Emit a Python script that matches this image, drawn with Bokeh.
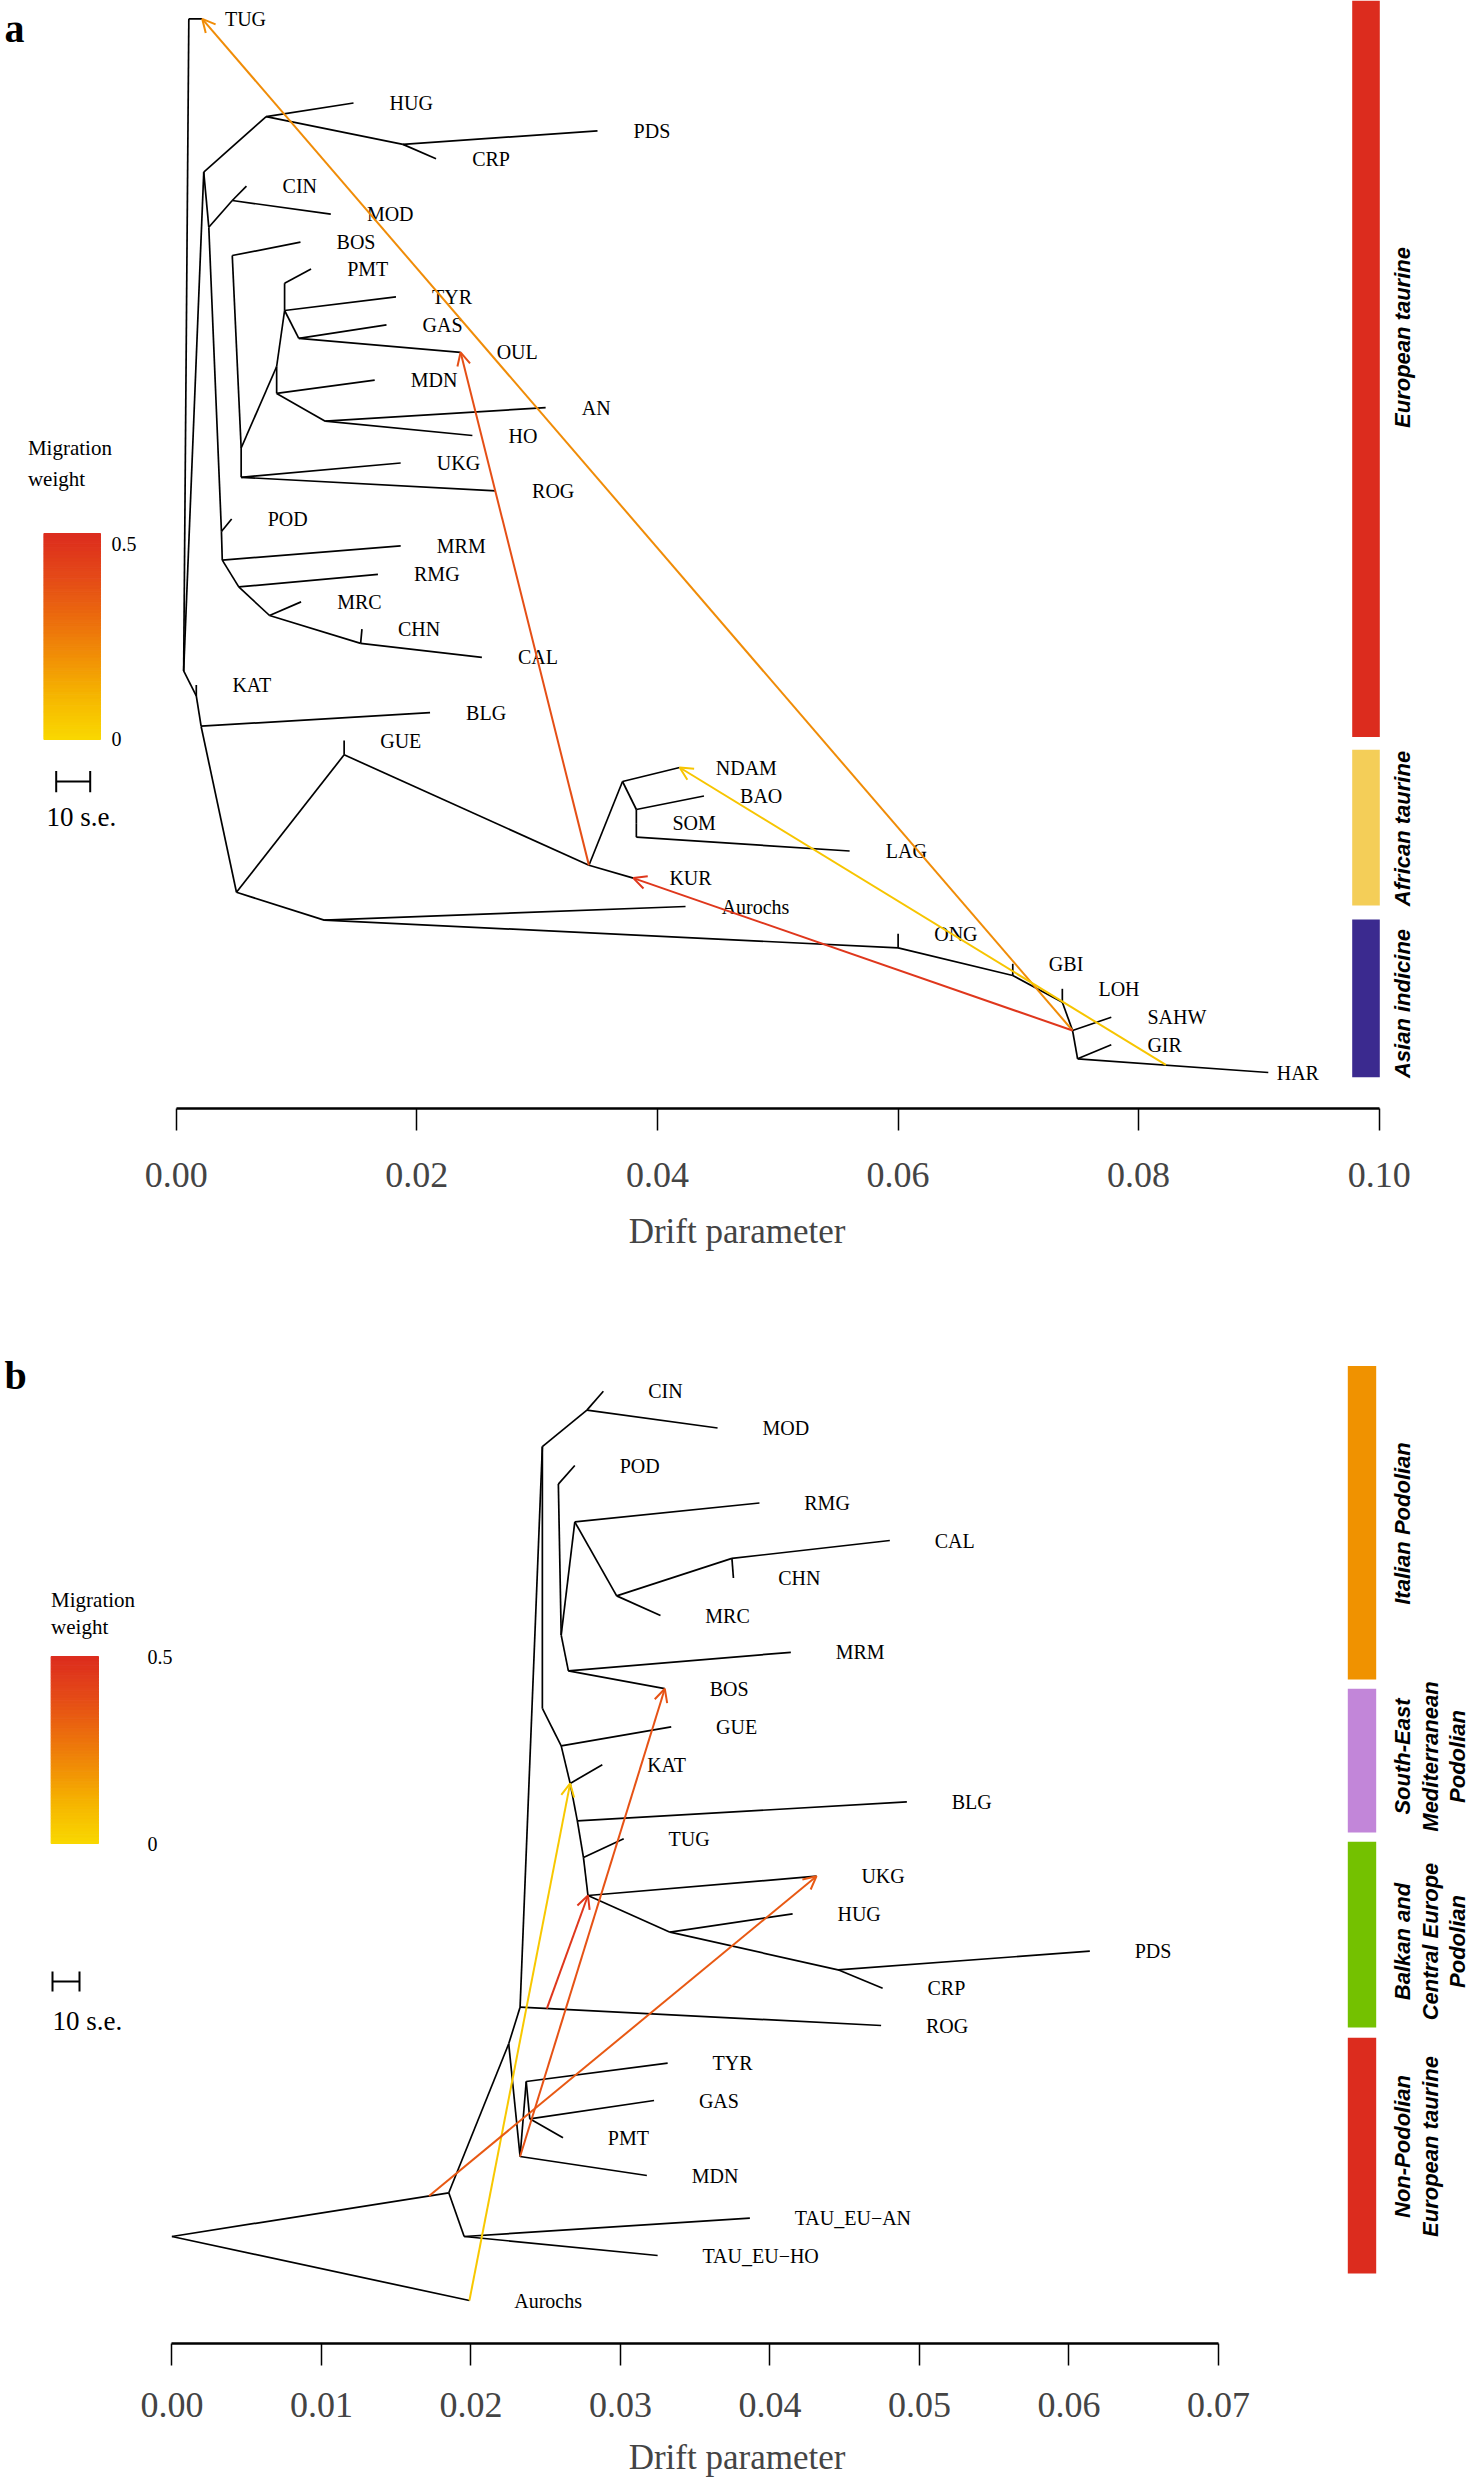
import math
from bokeh.plotting import figure
from bokeh.models import Range1d, Arrow, OpenHead, FixedTicker, NumeralTickFormatter, ColumnDataSource
from bokeh.layouts import column
from bokeh.embed import file_html
from bokeh.resources import INLINE
from bokeh.core.properties import value

SERIF = "Liberation Serif"
SANS = "Liberation Sans"

# ====================== DATA: panel a (TreeMix, all populations) ======================
a_node = ["TUG", "TUGm", "R0", "P1", "HC", "HUG", "PC", "PDS", "CRP", "Q1", "CM", "CIN", "MOD",
          "BOSN", "BOS", "PN", "PMT", "TN", "TYR", "GN", "GAS", "OUL", "Z1", "Z2", "MDN", "AHN",
          "AN", "HO", "U1", "U2", "UKG", "ROG", "PODN", "POD", "MRMN", "MRM", "RN", "RMG", "CN",
          "MRC", "CHNN", "CHN", "CAL", "KATN", "KAT", "BLGN", "BLG", "E", "GUEN", "GUE", "KN",
          "KUR", "A1", "NDAM", "A2", "BAO", "SOM", "A3", "LAG", "F", "Aurochs", "I1", "ONG", "I2",
          "GBI", "I3", "LOH", "I4", "SAHW", "I5", "GIR", "HAR", "MH"]
a_drift = [0.00105, 0.00216, 0.00062, 0.00229, 0.00748, 0.01474, 0.01885, 0.03502, 0.02160, 0.00271,
           0.00466, 0.00584, 0.01285, 0.00466, 0.01033, 0.00901, 0.01121, 0.00901, 0.01827, 0.01019,
           0.01748, 0.02364, 0.00835, 0.00835, 0.01650, 0.01239, 0.03071, 0.02462, 0.00540, 0.00540,
           0.01866, 0.02658, 0.00376, 0.00461, 0.00383, 0.01866, 0.00520, 0.01677, 0.00776, 0.01038,
           0.01533, 0.01544, 0.02541, 0.00167, 0.00167, 0.00207, 0.02110, 0.00501, 0.01396, 0.01396,
           0.03431, 0.03800, 0.03710, 0.04185, 0.03825, 0.04387, 0.03825, 0.03825, 0.05598, 0.01230,
           0.04234, 0.06001, 0.06001, 0.06954, 0.06954, 0.07366, 0.07366, 0.07451, 0.07773, 0.07493,
           0.07773, 0.09078, 0.08227]
a_ypos = [18.3, 18.3, 670.4, 171.7, 116.1, 102.5, 143.9, 130.4, 158.2, 226.7, 200.0, 185.7, 213.6,
          255.0, 241.7, 282.7, 268.6, 310.0, 296.4, 337.8, 324.3, 351.8, 366.0, 392.9, 379.6, 420.7,
          407.1, 435.0, 447.5, 476.8, 462.5, 490.4, 531.0, 518.5, 559.6, 545.4, 586.4, 573.9, 615.0,
          601.4, 642.9, 628.6, 656.8, 695.4, 684.6, 725.7, 712.1, 891.8, 754.3, 740.0, 864.7, 877.6,
          781.0, 767.0, 809.0, 795.5, 822.7, 836.7, 850.5, 919.6, 906.0, 947.3, 933.3, 975.0, 963.3,
          1001.7, 988.3, 1030.0, 1016.7, 1058.3, 1044.3, 1072.0, 1064.4]
a_edges = [("R0", "TUG"), ("TUG", "TUGm"), ("R0", "P1"), ("P1", "HC"), ("HC", "HUG"), ("HC", "PC"),
           ("PC", "PDS"), ("PC", "CRP"), ("P1", "Q1"), ("Q1", "CM"), ("CM", "CIN"), ("CM", "MOD"),
           ("Q1", "PODN"), ("PODN", "POD"), ("PODN", "MRMN"), ("MRMN", "MRM"), ("MRMN", "RN"),
           ("RN", "RMG"), ("RN", "CN"), ("CN", "MRC"), ("CN", "CHNN"), ("CHNN", "CHN"), ("CHNN", "CAL"),
           ("BOSN", "BOS"), ("BOSN", "U1"), ("U1", "U2"), ("U1", "Z1"), ("Z1", "TN"), ("TN", "PN"),
           ("PN", "PMT"), ("TN", "TYR"), ("TN", "GN"), ("GN", "GAS"), ("GN", "OUL"), ("Z1", "Z2"),
           ("Z2", "MDN"), ("Z2", "AHN"), ("AHN", "AN"), ("AHN", "HO"), ("U2", "UKG"), ("U2", "ROG"),
           ("R0", "KATN"), ("KATN", "KAT"), ("KATN", "BLGN"), ("BLGN", "BLG"), ("BLGN", "E"),
           ("E", "GUEN"), ("GUEN", "GUE"), ("GUEN", "KN"), ("KN", "KUR"), ("KN", "A1"), ("A1", "NDAM"),
           ("A1", "A2"), ("A2", "BAO"), ("A2", "SOM"), ("SOM", "A3"), ("A3", "LAG"), ("E", "F"),
           ("F", "Aurochs"), ("F", "I1"), ("I1", "ONG"), ("I1", "I2"), ("I2", "GBI"), ("I2", "I3"),
           ("I3", "LOH"), ("I3", "I4"), ("I4", "SAHW"), ("I4", "I5"), ("I5", "GIR"), ("I5", "HAR")]
a_tips = ["TUG", "HUG", "PDS", "CRP", "CIN", "MOD", "BOS", "PMT", "TYR", "GAS", "OUL", "MDN", "AN",
          "HO", "UKG", "ROG", "POD", "MRM", "RMG", "MRC", "CHN", "CAL", "KAT", "BLG", "GUE", "NDAM",
          "BAO", "SOM", "LAG", "KUR", "Aurochs", "ONG", "GBI", "LOH", "SAHW", "GIR", "HAR"]
a_mig_from = ["I4", "I4", "MH", "KN"]
a_mig_to = ["TUGm", "KUR", "NDAM", "OUL"]
a_mig_weight = [0.21, 0.46, 0.06, 0.38]
a_groups = ["European taurine", "African taurine", "Asian indicine"]
a_group_colors = ["#DC2C1E", "#F4CE58", "#3B2A8F"]

# ====================== DATA: panel b (TreeMix, Podolian) ======================
b_node = ["ROOT", "Aurochs", "N7", "MS1", "N8", "TAU_EU\u2212AN", "TAU_EU\u2212HO", "N6", "NL", "ROG",
          "MS3", "MDNN", "MDN", "TYRN", "TYR", "GPN", "GAS", "PMT", "N1", "CINN", "CIN", "MOD",
          "PODN", "POD", "N2", "RMGN", "RMG", "MCN", "MRC", "CCN", "CHN", "CAL", "N3", "MRM", "BOS",
          "N4", "N5", "GUE", "KATN", "KAT", "BLGN", "BLG", "TUGN", "TUG", "UKGN", "UKG", "HCN",
          "HUG", "PCN", "PDS", "CRP"]
b_drift = [0.0, 0.01990, 0.01852, 0.01720, 0.01955, 0.03866, 0.03249, 0.02253, 0.02329, 0.04744,
           0.02508, 0.02329, 0.03177, 0.02370, 0.03316, 0.02394, 0.03225, 0.02616, 0.02478, 0.02776,
           0.02886, 0.03650, 0.02585, 0.02695, 0.02604, 0.02695, 0.03930, 0.02975, 0.03268, 0.03746,
           0.03756, 0.04802, 0.02652, 0.04140, 0.03297, 0.02478, 0.02604, 0.03340, 0.02664, 0.02879,
           0.02712, 0.04916, 0.02753, 0.03022, 0.02783, 0.04312, 0.03332, 0.04152, 0.04456, 0.06140,
           0.04754]
b_ypos = [2236.0, 2300.0, 2192.3, 2195.4, 2236.0, 2217.7, 2255.0, 2043.3, 2006.7, 2025.0,
          2008.1, 2156.0, 2175.0, 2081.0, 2062.7, 2118.3, 2100.0, 2137.3, 1446.1, 1409.6,
          1390.7, 1427.5, 1483.6, 1465.0, 1634.6, 1521.4, 1502.5, 1595.4, 1615.0, 1557.9,
          1577.5, 1540.0, 1670.4, 1651.8, 1688.2, 1707.9, 1745.4, 1726.4, 1782.9, 1764.3,
          1820.4, 1801.4, 1857.1, 1838.2, 1895.0, 1875.7, 1931.7, 1913.3, 1969.3, 1950.7,
          1987.7]
b_edges = [("ROOT", "N7"), ("ROOT", "Aurochs"), ("N7", "N8"), ("N8", "TAU_EU\u2212AN"),
           ("N8", "TAU_EU\u2212HO"), ("N7", "N6"), ("N6", "NL"), ("NL", "ROG"), ("NL", "N1"),
           ("N6", "MDNN"), ("MDNN", "MDN"), ("MDNN", "TYRN"), ("TYRN", "TYR"), ("TYRN", "GPN"),
           ("GPN", "GAS"), ("GPN", "PMT"), ("N1", "CINN"), ("CINN", "CIN"), ("CINN", "MOD"),
           ("N1", "N4"), ("N4", "N5"), ("N5", "GUE"), ("N5", "KATN"), ("KATN", "KAT"),
           ("KATN", "BLGN"), ("BLGN", "BLG"), ("BLGN", "TUGN"), ("TUGN", "TUG"), ("TUGN", "UKGN"),
           ("UKGN", "UKG"), ("UKGN", "HCN"), ("HCN", "HUG"), ("HCN", "PCN"), ("PCN", "PDS"),
           ("PCN", "CRP"), ("PODN", "POD"), ("PODN", "N2"), ("RMGN", "N2"), ("RMGN", "RMG"),
           ("RMGN", "MCN"), ("MCN", "MRC"), ("MCN", "CCN"), ("CCN", "CHN"), ("CCN", "CAL"),
           ("N2", "N3"), ("N3", "MRM"), ("N3", "BOS")]
b_tips = ["CIN", "MOD", "POD", "RMG", "CAL", "CHN", "MRC", "MRM", "BOS", "GUE", "KAT", "BLG", "TUG",
          "UKG", "HUG", "PDS", "CRP", "ROG", "TYR", "GAS", "PMT", "MDN", "TAU_EU\u2212AN",
          "TAU_EU\u2212HO", "Aurochs"]
b_mig_from = ["Aurochs", "MS1", "MS3", "MDNN"]
b_mig_to = ["KATN", "UKG", "UKGN", "BOS"]
b_mig_weight = [0.05, 0.35, 0.46, 0.37]
b_groups = [["Italian Podolian"], ["South-East", "Mediterranean", "Podolian"],
            ["Balkan and", "Central Europe", "Podolian"], ["Non-Podolian", "European taurine"]]
b_group_colors = ["#F09200", "#C286D9", "#74C100", "#DC2C1E"]

# ====================== styling / layout ======================
LABEL_DX = 0.003
STOPS = [(0.0, (249, 216, 0)), (0.1, (246, 184, 0)), (0.2, (241, 144, 6)),
         (0.3, (235, 106, 14)), (0.4, (228, 72, 24)), (0.5, (220, 44, 30))]
PAGE_W = 1473


def wcolor(w):
    w = max(0.0, min(0.5, w))
    for (w0, c0), (w1, c1) in zip(STOPS[:-1], STOPS[1:]):
        if w <= w1:
            t = (w - w0) / (w1 - w0)
            return "#%02x%02x%02x" % tuple(int(round(a + (b - a) * t)) for a, b in zip(c0, c1))
    return "#%02x%02x%02x" % STOPS[-1][1]


def make_panel(node, drift, ypos, edges, tips, mig_from, mig_to, mig_w, origin_px, px_per_unit,
               y_top, y_axis, bottom_border, ticks, bounds, tick_standoff, label_standoff,
               label_dx_special):
    pos = {n: (x, y) for n, x, y in zip(node, drift, ypos)}
    x0 = (0 - origin_px) / px_per_unit
    x1 = x0 + PAGE_W / px_per_unit
    p = figure(frame_width=PAGE_W, frame_height=int(round(y_axis - y_top)),
               x_range=Range1d(x0, x1), y_range=Range1d(y_axis, y_top),
               output_backend="svg", toolbar_location=None, y_axis_location=None,
               min_border_left=0, min_border_right=0, min_border_top=0,
               min_border_bottom=bottom_border)
    p.grid.visible = False
    p.outline_line_color = None
    p.background_fill_color = "white"
    p.border_fill_color = "white"

    # tree edges
    src = ColumnDataSource(dict(
        x0=[pos[a][0] for a, b in edges], y0=[pos[a][1] for a, b in edges],
        x1=[pos[b][0] for a, b in edges], y1=[pos[b][1] for a, b in edges]))
    p.segment("x0", "y0", "x1", "y1", source=src, line_color="black", line_width=1.7)

    # tip labels
    lx = [pos[t][0] + label_dx_special.get(t, LABEL_DX) for t in tips]
    ly = [pos[t][1] for t in tips]
    p.text(x=lx, y=ly, text=tips, text_font=value(SERIF), text_font_size="20px",
           text_baseline="middle", text_align="left", text_color="black")

    # migration edges
    for s, t, w in zip(mig_from, mig_to, mig_w):
        c = wcolor(w)
        p.add_layout(Arrow(end=OpenHead(size=13, line_color=c, line_width=2),
                           x_start=pos[s][0], y_start=pos[s][1],
                           x_end=pos[t][0], y_end=pos[t][1],
                           line_color=c, line_width=2))

    ax = p.xaxis[0]
    ax.ticker = FixedTicker(ticks=ticks)
    ax.bounds = bounds
    ax.formatter = NumeralTickFormatter(format="0.00")
    ax.major_tick_out = 22
    ax.major_tick_in = 0
    ax.minor_tick_out = 0
    ax.minor_tick_in = 0
    ax.axis_line_width = 2.5
    ax.major_tick_line_width = 1.5
    ax.major_label_text_font = SERIF
    ax.major_label_text_font_size = "36px"
    ax.major_label_standoff = tick_standoff
    ax.axis_label = "Drift parameter"
    ax.axis_label_text_font = SERIF
    ax.axis_label_text_font_size = "35px"
    ax.axis_label_text_font_style = "normal"
    ax.axis_label_standoff = label_standoff
    return p


def add_gradient(p, xfun, xl, xr, ybot, ytop, n=60):
    ys = [ybot + (ytop - ybot) * i / n for i in range(n + 1)]
    cols = [wcolor(0.5 * (i + 0.5) / n) for i in range(n)]
    p.quad(left=[xfun(xl)] * n, right=[xfun(xr)] * n, bottom=ys[:-1], top=ys[1:],
           fill_color=cols, line_color=cols, line_width=1)


# ---------------- panel a ----------------
A_O, A_S = 175.7, 12030.0
A_TOP, A_AXIS, A_BORDER = 0, 1108, 152
pa = make_panel(a_node, a_drift, a_ypos, a_edges, a_tips, a_mig_from, a_mig_to, a_mig_weight,
                A_O, A_S, A_TOP, A_AXIS, A_BORDER, [0, 0.02, 0.04, 0.06, 0.08, 0.10], (0, 0.10),
                32, 22, {"HAR": 0.0007})


def xa(px):
    return (px - A_O) / A_S


pa.text(x=[xa(4)], y=[28], text=["a"], text_font=value(SERIF), text_font_size="40px",
        text_font_style="bold", text_baseline="middle", text_align="left")
add_gradient(pa, xa, 43.4, 100, 739.0, 533.0)
pa.text(x=[xa(27.4), xa(27.4)], y=[447.5, 478.6], text=["Migration", "weight"],
        text_font=value(SERIF), text_font_size="21px", text_baseline="middle")
pa.text(x=[xa(111), xa(111)], y=[543.6, 738.0], text=["0.5", "0"],
        text_font=value(SERIF), text_font_size="20px", text_baseline="middle")
pa.segment(x0=[xa(55.7), xa(55.7), xa(89.7)], y0=[781, 770.4, 770.4],
           x1=[xa(89.7), xa(55.7), xa(89.7)], y1=[781, 791.8, 791.8], line_color="black", line_width=2)
pa.text(x=[xa(46)], y=[816.8], text=["10 s.e."], text_font=value(SERIF), text_font_size="27px",
        text_baseline="middle")
a_bar_span = [(0.0, 736.6), (749.2, 905.0), (919.0, 1076.8)]
a_lab_y = [337, 828, 1003]
pa.quad(left=[xa(1351.7)] * 3, right=[xa(1379.3)] * 3, top=[s[0] for s in a_bar_span],
        bottom=[s[1] for s in a_bar_span], fill_color=a_group_colors, line_color=None)
pa.text(x=[xa(1402)] * 3, y=a_lab_y, text=a_groups, angle=math.pi / 2, text_font=value(SANS),
        text_font_size="22px", text_font_style="bold italic", text_align="center",
        text_baseline="middle")

# ---------------- panel b ----------------
B_O, B_S = 171.4, 14950.0
B_TOP = A_AXIS + A_BORDER
B_AXIS = 2343
B_BORDER = 2482 - B_AXIS
pb = make_panel(b_node, b_drift, b_ypos, b_edges, b_tips, b_mig_from, b_mig_to, b_mig_weight,
                B_O, B_S, B_TOP, B_AXIS, B_BORDER, [0, 0.01, 0.02, 0.03, 0.04, 0.05, 0.06, 0.07],
                (0, 0.07), 27, 18, {})


def xb(px):
    return (px - B_O) / B_S


pb.text(x=[xb(4)], y=[1375], text=["b"], text_font=value(SERIF), text_font_size="40px",
        text_font_style="bold", text_baseline="middle", text_align="left")
add_gradient(pb, xb, 50.6, 98, 1843.0, 1656.0)
pb.text(x=[xb(50.6), xb(50.6)], y=[1599.4, 1626], text=["Migration", "weight"],
        text_font=value(SERIF), text_font_size="21px", text_baseline="middle")
pb.text(x=[xb(147), xb(147)], y=[1656, 1843], text=["0.5", "0"],
        text_font=value(SERIF), text_font_size="20px", text_baseline="middle")
pb.segment(x0=[xb(52), xb(52), xb(79)], y0=[1981, 1971, 1971],
           x1=[xb(79), xb(52), xb(79)], y1=[1981, 1991, 1991], line_color="black", line_width=2)
pb.text(x=[xb(52)], y=[2020], text=["10 s.e."], text_font=value(SERIF), text_font_size="27px",
        text_baseline="middle")
b_bar_span = [(1365.5, 1679.0), (1688.2, 1832.0), (1841.3, 2026.9), (2037.3, 2273.0)]
b_lab_y = [1523, 1756, 1941, 2146]
pb.quad(left=[xb(1347.3)] * 4, right=[xb(1375.7)] * 4, top=[s[0] for s in b_bar_span],
        bottom=[s[1] for s in b_bar_span], fill_color=b_group_colors, line_color=None)
LINE_GAP = 27.5
for lines, yc in zip(b_groups, b_lab_y):
    n = len(lines)
    xs = [xb(1402 + LINE_GAP * k) for k in range(n)]
    pb.text(x=xs, y=[yc] * n, text=lines, angle=math.pi / 2, text_font=value(SANS),
            text_font_size="22px", text_font_style="bold italic", text_align="center",
            text_baseline="middle")

layout = column(pa, pb, spacing=0)
open("out.html", "w").write(file_html(layout, INLINE))
